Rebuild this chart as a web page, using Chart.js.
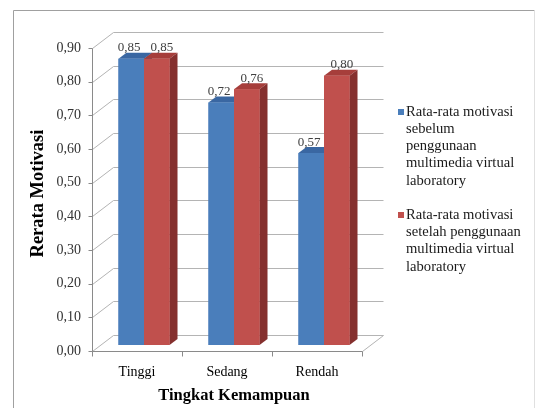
<!DOCTYPE html>
<html>
<head>
<meta charset="utf-8">
<script src="https://cdn.jsdelivr.net/npm/chart.js@4.4.1/dist/chart.umd.min.js"></script>
<style>
  html, body { margin: 0; padding: 0; background: #fff; }
</style>
</head>
<body>
<canvas id="chart" width="536" height="408"></canvas>
<script>
const categories = ['Tinggi', 'Sedang', 'Rendah'];
const sebelum = [0.85, 0.72, 0.57];
const setelah = [0.85, 0.76, 0.80];
const yTicks = [0, 0.1, 0.2, 0.3, 0.4, 0.5, 0.6, 0.7, 0.8, 0.9];
const seriesNames = [
  'Rata-rata motivasi sebelum penggunaan multimedia virtual laboratory',
  'Rata-rata motivasi setelah penggunaan multimedia virtual laboratory'
];
// line breaks as they appear in the legend
const legendLines = [
  ['Rata-rata motivasi', 'sebelum', 'penggunaan', 'multimedia virtual', 'laboratory'],
  ['Rata-rata motivasi', 'setelah penggunaan', 'multimedia virtual', 'laboratory']
];

const fmt = v => v.toFixed(2).replace('.', ',');
const SERIF = '"Liberation Serif", "Times New Roman", serif';

// fake 3d: offsets from the plane of the bar fronts (= chart area)
const FRONT = { x: -7, y: 6 };
const BACK = { x: 14, y: -10 };
const DEPTH = { x: 8, y: -6 };

const faces = [
  { front: '#4a7ebb', top: '#3a67a2', side: '#2e5585' },
  { front: '#c0504d', top: '#a63e3b', side: '#85302e' }
];
const labelShift = [-2, 5];

const px = v => Math.round(v) + 0.5;

const frame3d = {
  id: 'frame3d',
  beforeDraw(chart) {
    const ctx = chart.ctx;
    ctx.save();
    ctx.fillStyle = '#fff';
    ctx.fillRect(0, 0, chart.width, chart.height);
    ctx.lineWidth = 1;
    ctx.strokeStyle = '#a0a0a0';
    ctx.beginPath();
    ctx.moveTo(13.5, chart.height);
    ctx.lineTo(13.5, 10.5);
    ctx.lineTo(534.5, 10.5);
    ctx.stroke();
    ctx.strokeStyle = '#e0e0e0';
    ctx.beginPath();
    ctx.moveTo(534.5, 10.5);
    ctx.lineTo(534.5, chart.height);
    ctx.stroke();
    ctx.restore();
  },
  beforeDatasetsDraw(chart) {
    const { ctx, chartArea: a, scales: { x, y } } = chart;
    const y0 = y.getPixelForValue(0);
    const yTop = y.getPixelForValue(yTicks[yTicks.length - 1]);
    ctx.save();
    ctx.lineWidth = 1;

    // back wall grid + connectors to the front axis
    ctx.strokeStyle = '#b4b4b4';
    y.ticks.forEach(t => {
      const py = y.getPixelForValue(t.value);
      ctx.beginPath();
      ctx.moveTo(px(a.left + FRONT.x), px(py + FRONT.y));
      ctx.lineTo(px(a.left + BACK.x), px(py + BACK.y));
      ctx.lineTo(px(a.right + BACK.x), px(py + BACK.y));
      ctx.stroke();
    });
    // floor right edge
    ctx.beginPath();
    ctx.moveTo(px(a.right + FRONT.x), px(y0 + FRONT.y));
    ctx.lineTo(px(a.right + BACK.x), px(y0 + BACK.y));
    ctx.stroke();

    // front axes
    ctx.strokeStyle = '#8a8a8a';
    ctx.beginPath();
    ctx.moveTo(px(a.left + FRONT.x), px(yTop + FRONT.y));
    ctx.lineTo(px(a.left + FRONT.x), px(y0 + FRONT.y));
    ctx.lineTo(px(a.right + FRONT.x), px(y0 + FRONT.y));
    ctx.stroke();
    y.ticks.forEach(t => {
      const py = px(y.getPixelForValue(t.value) + FRONT.y);
      ctx.beginPath();
      ctx.moveTo(px(a.left + FRONT.x) - 4, py);
      ctx.lineTo(px(a.left + FRONT.x), py);
      ctx.stroke();
    });
    for (let i = 0; i <= categories.length; i++) {
      const cx = px(x.getPixelForValue(i - 0.5) + FRONT.x);
      ctx.beginPath();
      ctx.moveTo(cx, px(y0 + FRONT.y));
      ctx.lineTo(cx, px(y0 + FRONT.y) + 5);
      ctx.stroke();
    }
    ctx.restore();
  },
  afterDatasetsDraw(chart) {
    const ctx = chart.ctx;
    ctx.save();
    chart.data.datasets.forEach((ds, di) => {
      const meta = chart.getDatasetMeta(di);
      const c = faces[di];
      meta.data.forEach(bar => {
        const { x, y, base, width } = bar.getProps(['x', 'y', 'base', 'width'], true);
        const l = x - width / 2, r = x + width / 2;
        ctx.fillStyle = c.top;
        ctx.beginPath();
        ctx.moveTo(l, y);
        ctx.lineTo(r, y);
        ctx.lineTo(r + DEPTH.x, y + DEPTH.y);
        ctx.lineTo(l + DEPTH.x, y + DEPTH.y);
        ctx.closePath();
        ctx.fill();
        ctx.fillStyle = c.side;
        ctx.beginPath();
        ctx.moveTo(r, y);
        ctx.lineTo(r + DEPTH.x, y + DEPTH.y);
        ctx.lineTo(r + DEPTH.x, base + DEPTH.y);
        ctx.lineTo(r, base);
        ctx.closePath();
        ctx.fill();
        bar.draw(ctx);
      });
    });

    // value labels
    ctx.font = '13px ' + SERIF;
    ctx.fillStyle = '#404040';
    ctx.textAlign = 'center';
    ctx.textBaseline = 'middle';
    chart.data.datasets.forEach((ds, di) => {
      chart.getDatasetMeta(di).data.forEach((bar, i) => {
        ctx.fillText(fmt(ds.data[i]), bar.x + labelShift[di], bar.y - 11);
      });
    });
    ctx.restore();
  },
  afterDraw(chart) {
    const ctx = chart.ctx;
    const lh = 17.2;
    let ly = 112;
    ctx.save();
    ctx.font = '14.6px ' + SERIF;
    ctx.textBaseline = 'middle';
    ctx.textAlign = 'left';
    legendLines.forEach((lines, di) => {
      ctx.fillStyle = faces[di].front;
      ctx.fillRect(398, Math.round(ly) - 3, 6, 6);
      ctx.fillStyle = '#1a1a1a';
      lines.forEach((t, k) => ctx.fillText(t, 406, ly + k * lh));
      ly += (lines.length + 1) * lh;
    });
    ctx.restore();
  }
};

new Chart(document.getElementById('chart'), {
  type: 'bar',
  data: {
    labels: categories,
    datasets: [{
      label: seriesNames[0],
      data: sebelum,
      backgroundColor: faces[0].front,
      borderWidth: 0
    }, {
      label: seriesNames[1],
      data: setelah,
      backgroundColor: faces[1].front,
      borderWidth: 0
    }]
  },
  options: {
    responsive: false,
    animation: false,
    devicePixelRatio: 1,
    events: [],
    barPercentage: 1,
    categoryPercentage: 0.567,
    layout: { padding: { left: 0, top: 42, right: 167, bottom: 0 } },
    plugins: { legend: { display: false }, tooltip: { enabled: false } },
    scales: {
      x: {
        afterFit(s) { s.height = 63; },
        grid: { display: false, drawTicks: false },
        border: { display: false },
        ticks: { padding: 19, labelOffset: -7, color: '#000', font: { family: SERIF, size: 14 } },
        title: {
          display: true, text: 'Tingkat Kemampuan', color: '#000',
          font: { family: SERIF, size: 16.5, weight: 'bold' },
          padding: { top: 0, bottom: 2 }
        }
      },
      y: {
        min: 0,
        max: 0.9,
        afterFit(s) { s.width = 99; },
        afterBuildTicks(s) { s.ticks = yTicks.map(v => ({ value: v })); },
        grid: { display: false, drawTicks: false },
        border: { display: false },
        ticks: { padding: 18, labelOffset: 6, color: '#333', font: { family: SERIF, size: 14 }, callback: v => fmt(v) },
        title: {
          display: true, text: 'Rerata Motivasi', color: '#000',
          font: { family: SERIF, size: 18.5, weight: 'bold' },
          padding: { top: 27, bottom: 0 }
        }
      }
    }
  },
  plugins: [frame3d]
});
</script>
</body>
</html>
